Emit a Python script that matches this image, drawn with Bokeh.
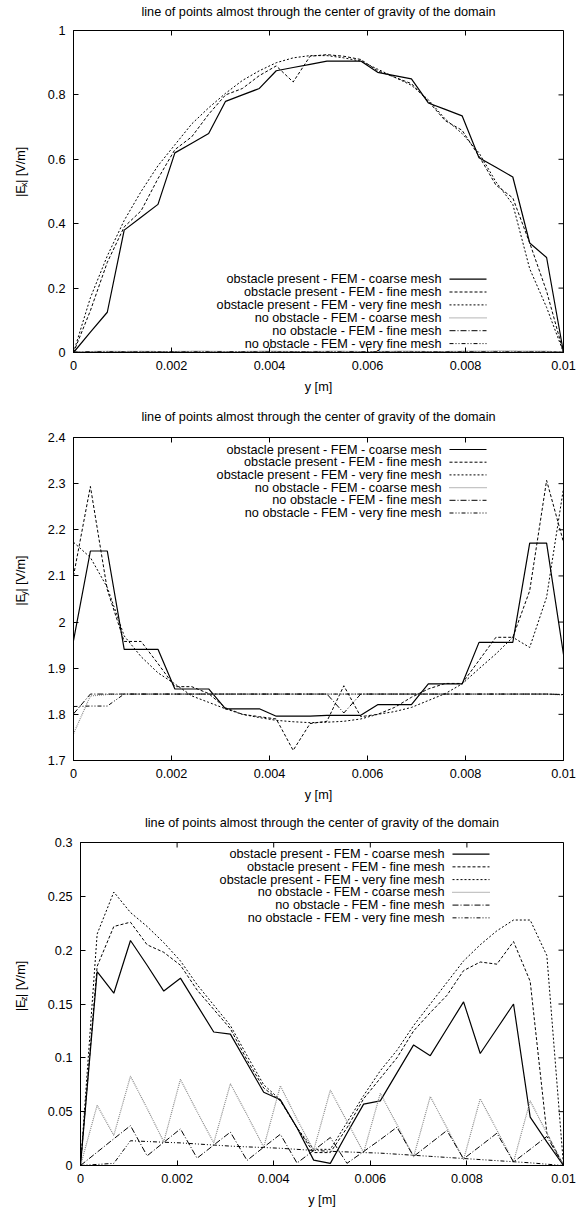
import math
from bokeh.plotting import figure
from bokeh.models import Range1d, FixedTicker
from bokeh.layouts import column, row
from bokeh.embed import file_html
from bokeh.resources import INLINE
from bokeh.core.properties import value

# ---------------- data ----------------
y_pos = [0.0, 0.0003448, 0.0006897, 0.0010345, 0.0013793, 0.0017241, 0.0020690, 0.0024138,
         0.0027586, 0.0031034, 0.0034483, 0.0037931, 0.0041379, 0.0044828, 0.0048276, 0.0051724,
         0.0055172, 0.0058621, 0.0062069, 0.0065517, 0.0068966, 0.0072414, 0.0075862, 0.0079310,
         0.0082759, 0.0086207, 0.0089655, 0.0093103, 0.0096552, 0.01]

legend_labels = ["obstacle present - FEM - coarse mesh",
                 "obstacle present - FEM - fine mesh",
                 "obstacle present - FEM - very fine mesh",
                 "no obstacle - FEM - coarse mesh",
                 "no obstacle - FEM - fine mesh",
                 "no obstacle - FEM - very fine mesh"]

title_text = "line of points almost through the center of gravity of the domain"
x_axis_label = "y [m]"

x_ticks = [0, 0.002, 0.004, 0.006, 0.008, 0.01]
x_tick_labels = ["0", "0.002", "0.004", "0.006", "0.008", "0.01"]

# |Ex|
ex_ticks = [0, 0.2, 0.4, 0.6, 0.8, 1.0]
ex_tick_labels = ["0", "0.2", "0.4", "0.6", "0.8", "1"]
ex_obs_coarse = [0, 0.063, 0.125, 0.38, 0.42, 0.46, 0.62, 0.65, 0.68, 0.78, 0.80, 0.82, 0.875, 0.885,
                 0.895, 0.905, 0.905, 0.905, 0.87, 0.86, 0.85, 0.775, 0.755, 0.735, 0.605, 0.575,
                 0.545, 0.34, 0.295, 0]
ex_obs_fine = [0, 0.13, 0.28, 0.39, 0.44, 0.54, 0.63, 0.67, 0.74, 0.80, 0.82, 0.86, 0.89, 0.84, 0.92,
               0.925, 0.92, 0.91, 0.875, 0.855, 0.835, 0.78, 0.72, 0.69, 0.61, 0.52, 0.48, 0.34,
               0.19, 0]
ex_obs_vfine = [0, 0.17, 0.30, 0.41, 0.50, 0.58, 0.645, 0.71, 0.76, 0.805, 0.845, 0.875, 0.90, 0.915,
                0.922, 0.922, 0.915, 0.905, 0.88, 0.855, 0.83, 0.785, 0.725, 0.68, 0.62, 0.53, 0.46,
                0.26, 0.14, 0]
ex_noobs_coarse = [0.001, 0.003, 0.004, 0.003, 0.004, 0.003, 0.003, 0.004, 0.004, 0.003, 0.003,
                   0.004, 0.004, 0.003, 0.003, 0.004, 0.004, 0.003, 0.003, 0.004, 0.004, 0.003,
                   0.003, 0.004, 0.004, 0.005, 0.005, 0.004, 0.004, 0.001]
ex_noobs_fine = [0.001, 0.001, 0.001, 0.001, 0.001, 0.001, 0.001, 0.001, 0.001, 0.001, 0.001,
                 0.001, 0.001, 0.001, 0.001, 0.001, 0.001, 0.001, 0.001, 0.001, 0.001, 0.001,
                 0.001, 0.001, 0.001, 0.001, 0.001, 0.001, 0.001, 0.001]
ex_noobs_vfine = [0.001, 0.002, 0.002, 0.002, 0.002, 0.002, 0.002, 0.002, 0.002, 0.002, 0.002,
                  0.002, 0.002, 0.002, 0.002, 0.002, 0.002, 0.002, 0.002, 0.002, 0.002, 0.002,
                  0.002, 0.002, 0.002, 0.002, 0.002, 0.002, 0.002, 0.001]

# |Ey|
ey_ticks = [1.7, 1.8, 1.9, 2.0, 2.1, 2.2, 2.3, 2.4]
ey_tick_labels = ["1.7", "1.8", "1.9", "2", "2.1", "2.2", "2.3", "2.4"]
ey_obs_coarse = [1.96, 2.154, 2.154, 1.941, 1.941, 1.941, 1.855, 1.855, 1.855, 1.812, 1.812, 1.812,
                 1.796, 1.796, 1.796, 1.798, 1.798, 1.798, 1.821, 1.821, 1.821, 1.866, 1.866, 1.866,
                 1.956, 1.956, 1.956, 2.171, 2.171, 1.93]
ey_obs_fine = [2.10, 2.294, 2.07, 1.958, 1.958, 1.91, 1.86, 1.86, 1.845, 1.814, 1.80, 1.795, 1.79,
               1.722, 1.78, 1.785, 1.862, 1.795, 1.80, 1.815, 1.837, 1.855, 1.867, 1.867, 1.917,
               1.967, 1.967, 2.068, 2.307, 2.173]
ey_obs_vfine = [2.173, 2.14, 2.075, 1.97, 1.925, 1.89, 1.866, 1.84, 1.826, 1.812, 1.80, 1.793, 1.787,
                1.784, 1.782, 1.783, 1.785, 1.79, 1.80, 1.806, 1.815, 1.83, 1.845, 1.866, 1.899,
                1.931, 1.967, 1.945, 2.054, 2.29]
ey_noobs_coarse = [1.758, 1.840, 1.843, 1.844, 1.844, 1.844, 1.844, 1.844, 1.844, 1.844, 1.844,
                   1.844, 1.844, 1.844, 1.844, 1.844, 1.844, 1.844, 1.844, 1.844, 1.844, 1.844,
                   1.844, 1.844, 1.844, 1.844, 1.844, 1.844, 1.844, 1.842]
ey_noobs_fine = [1.801, 1.844, 1.844, 1.844, 1.844, 1.844, 1.844, 1.844, 1.844, 1.844, 1.844,
                 1.844, 1.844, 1.844, 1.844, 1.844, 1.803, 1.844, 1.844, 1.844, 1.844, 1.844,
                 1.844, 1.844, 1.844, 1.844, 1.844, 1.844, 1.844, 1.843]
ey_noobs_vfine = [1.817, 1.818, 1.818, 1.844, 1.844, 1.844, 1.844, 1.844, 1.844, 1.844, 1.844,
                  1.844, 1.844, 1.844, 1.844, 1.844, 1.844, 1.844, 1.844, 1.844, 1.844, 1.844,
                  1.844, 1.844, 1.844, 1.844, 1.844, 1.844, 1.844, 1.843]

# |Ez|
ez_ticks = [0, 0.05, 0.1, 0.15, 0.2, 0.25, 0.3]
ez_tick_labels = ["0", "0.05", "0.1", "0.15", "0.2", "0.25", "0.3"]
ez_obs_coarse = [0, 0.18, 0.16, 0.209, 0.186, 0.162, 0.174, 0.149, 0.124, 0.122, 0.095, 0.068, 0.061,
                 0.035, 0.005, 0.002, 0.03, 0.057, 0.06, 0.086, 0.112, 0.102, 0.127, 0.152, 0.104,
                 0.127, 0.15, 0.045, 0.022, 0]
ez_obs_fine = [0, 0.185, 0.222, 0.226, 0.205, 0.198, 0.186, 0.163, 0.145, 0.127, 0.098, 0.072, 0.06,
               0.035, 0.012, 0.012, 0.035, 0.062, 0.081, 0.10, 0.125, 0.142, 0.158, 0.181, 0.189,
               0.187, 0.208, 0.171, 0.03, 0]
ez_obs_vfine = [0, 0.215, 0.254, 0.235, 0.222, 0.207, 0.19, 0.168, 0.149, 0.13, 0.102, 0.075, 0.061,
                0.035, 0.015, 0.015, 0.04, 0.065, 0.088, 0.107, 0.13, 0.15, 0.17, 0.19, 0.205, 0.218,
                0.228, 0.228, 0.195, 0]
ez_noobs_coarse = [0, 0.056, 0.028, 0.083, 0.053, 0.022, 0.080, 0.050, 0.021, 0.076, 0.047, 0.017,
                   0.074, 0.043, 0.014, 0.070, 0.041, 0.012, 0.067, 0.038, 0.008, 0.064, 0.035,
                   0.0055, 0.062, 0.033, 0.0033, 0.060, 0.030, 0]
ez_noobs_fine = [0, 0.0124, 0.0248, 0.037, 0.009, 0.0215, 0.034, 0.0068, 0.019, 0.031, 0.0047, 0.017,
                 0.029, 0.0023, 0.014, 0.026, 0.002, 0.013, 0.024, 0.0356, 0.0084, 0.0205, 0.0325,
                 0.0062, 0.018, 0.030, 0.0033, 0.015, 0.027, 0]
ez_noobs_vfine = [0, 0.001, 0.002, 0.023, 0.0223, 0.0216, 0.021, 0.020, 0.019, 0.018, 0.0173, 0.0167,
                  0.016, 0.015, 0.014, 0.0132, 0.0126, 0.012, 0.0115, 0.0105, 0.0095, 0.0085, 0.0075,
                  0.0065, 0.0055, 0.0045, 0.0035, 0.0025, 0.0012, 0]

# ---------------- styling ----------------
FONT = "Liberation Sans"
FS = "12.7px"
SUB_FS = "9px"
TXT = "#000000"
STYLES = [
    dict(line_color="#000000", line_width=1.2, line_dash="solid"),
    dict(line_color="#000000", line_width=1.0, line_dash="3 2"),
    dict(line_color="#000000", line_width=1.0, line_dash="2 2"),
    dict(line_color="#8a8a8a", line_width=1.2, line_dash="1 1"),
    dict(line_color="#000000", line_width=1.0, line_dash="6 2 1 2"),
    dict(line_color="#000000", line_width=1.0, line_dash="4 2 1 2 1 2"),
]
TICK_LEN = 5
WIN_W = 576


def strip(w, h):
    """Blank figure used as a text area (pixel coordinates, y up)."""
    f = figure(width=w, height=h, x_range=Range1d(0, w), y_range=Range1d(0, h),
               output_backend="svg", toolbar_location=None, min_border=0,
               x_axis_type=None, y_axis_type=None)
    f.outline_line_color = None
    f.background_fill_color = "white"
    f.border_fill_color = "white"
    return f


def make_panel(total_h, frame_left, frame_right, frame_top, frame_bottom,
               ymin, ymax, yticks, ylabels, series, sub, title_cy,
               leg_row0, leg_step, leg_text_right, leg_x0, leg_x1, ylab_cx):
    # geometry (absolute within this panel block, y measured from top)
    inner_top = 8                      # room above frame inside main figure
    title_h = frame_top - inner_top    # title strip height
    main_h = total_h - title_h
    lab_w = frame_left - 36            # label strip width
    main_w = WIN_W - lab_w
    bl = frame_left - lab_w
    br = WIN_W - frame_right
    bb = total_h - frame_bottom

    # ---- title strip ----
    ts = strip(WIN_W, title_h)
    ts.text(x=[(frame_left + frame_right) / 2.0], y=[title_h - title_cy], text=[title_text],
            text_align="center", text_baseline="middle", text_font=value(FONT),
            text_font_size=value(FS), text_color=TXT)

    # ---- main plot ----
    p = figure(width=main_w, height=main_h, x_range=Range1d(0, 0.01), y_range=Range1d(ymin, ymax),
               output_backend="svg", toolbar_location=None,
               min_border_left=bl, min_border_right=br, min_border_top=inner_top,
               min_border_bottom=bb)
    p.background_fill_color = "white"
    p.border_fill_color = "white"
    p.outline_line_color = "#000000"
    p.outline_line_width = 1
    p.xgrid.visible = False
    p.ygrid.visible = False

    fw = frame_right - frame_left
    fh = frame_bottom - frame_top

    def dx(px):  # absolute x pixel -> data
        return (px - frame_left) / fw * 0.01

    def dy(py):  # absolute y pixel -> data
        return ymax - (py - frame_top) / fh * (ymax - ymin)

    xa = p.xaxis[0]
    xa.ticker = FixedTicker(ticks=x_ticks)
    xa.major_label_overrides = {t: l for t, l in zip(x_ticks, x_tick_labels)}
    xa.axis_label = x_axis_label
    xa.axis_label_standoff = 7
    xa.axis_label_text_font = FONT
    xa.axis_label_text_font_size = FS
    xa.axis_label_text_font_style = "normal"
    xa.axis_label_text_color = TXT
    xa.major_label_standoff = 8
    ya = p.yaxis[0]
    ya.ticker = FixedTicker(ticks=yticks)
    ya.major_label_overrides = {t: l for t, l in zip(yticks, ylabels)}
    ya.major_label_standoff = 8
    for ax in (xa, ya):
        ax.major_label_text_font = FONT
        ax.major_label_text_font_size = FS
        ax.major_label_text_color = TXT
        ax.axis_line_color = "#000000"
        ax.major_tick_line_color = "#000000"
        ax.major_tick_in = TICK_LEN
        ax.major_tick_out = 0
        ax.minor_tick_line_color = None

    # mirrored ticks on top and right edges (same tick values)
    tick_dy = TICK_LEN / fh * (ymax - ymin)
    tick_dx = TICK_LEN / fw * 0.01
    p.segment(x0=x_ticks, y0=[ymax] * len(x_ticks), x1=x_ticks, y1=[ymax - tick_dy] * len(x_ticks),
              line_color="#000000", line_width=1)
    p.segment(x0=[0.01] * len(yticks), y0=yticks, x1=[0.01 - tick_dx] * len(yticks), y1=yticks,
              line_color="#000000", line_width=1)

    # data series
    for vals, st in zip(series, STYLES):
        p.line(y_pos, vals, **st)

    # legend (gnuplot style: right-aligned text, sample to its right)
    rows_y = [dy(frame_top + leg_row0 + i * leg_step) for i in range(len(legend_labels))]
    p.text(x=[dx(leg_text_right)] * len(legend_labels), y=rows_y, text=legend_labels,
           text_align="right", text_baseline="middle", text_font=value(FONT),
           text_font_size=value(FS), text_color=TXT)
    for yy, st in zip(rows_y, STYLES):
        p.line([dx(leg_x0), dx(leg_x1)], [yy, yy], **st)

    # ---- y-axis label strip: |E_sub| [V/m], rotated, with a subscript ----
    ls = strip(lab_w, main_h)
    cy = inner_top + fh / 2.0
    w1, w2, w3 = 11.8, 4.5, 36.5
    start = cy + (w1 + w2 + w3) / 2.0
    pieces = [("|E", FS, start, 0), (sub, SUB_FS, start - w1, 3), ("| [V/m]", FS, start - w1 - w2, 0)]
    for txt, fs, py, shift in pieces:
        ls.text(x=[ylab_cx + shift], y=[main_h - py], text=[txt], angle=math.pi / 2,
                text_align="left", text_baseline="middle", text_font=value(FONT),
                text_font_size=value(fs), text_color=TXT)

    return column(ts, row(ls, p, spacing=0), spacing=0)


# panel blocks: heights 400 / 405 / 404 ; legend rows given relative to frame top
b1 = make_panel(400, 73, 563, 30, 352, 0, 1, ex_ticks, ex_tick_labels,
                [ex_obs_coarse, ex_obs_fine, ex_obs_vfine, ex_noobs_coarse, ex_noobs_fine, ex_noobs_vfine],
                "x", 11.7, 248.6, 12.9, 441, 449, 486, 20)
b2 = make_panel(405, 73, 563, 37, 360, 1.7, 2.4, ey_ticks, ey_tick_labels,
                [ey_obs_coarse, ey_obs_fine, ey_obs_vfine, ey_noobs_coarse, ey_noobs_fine, ey_noobs_vfine],
                "y", 16.7, 12, 12.7, 441, 449, 486, 20)
b3 = make_panel(404, 80, 563, 37, 360, 0, 0.3, ez_ticks, ez_tick_labels,
                [ez_obs_coarse, ez_obs_fine, ez_obs_vfine, ez_noobs_coarse, ez_noobs_fine, ez_noobs_vfine],
                "z", 17.7, 11.6, 12.75, 444, 452, 489, 20)

layout = column(b1, b2, b3, spacing=0)
open("out.html", "w").write(file_html(layout, INLINE))
